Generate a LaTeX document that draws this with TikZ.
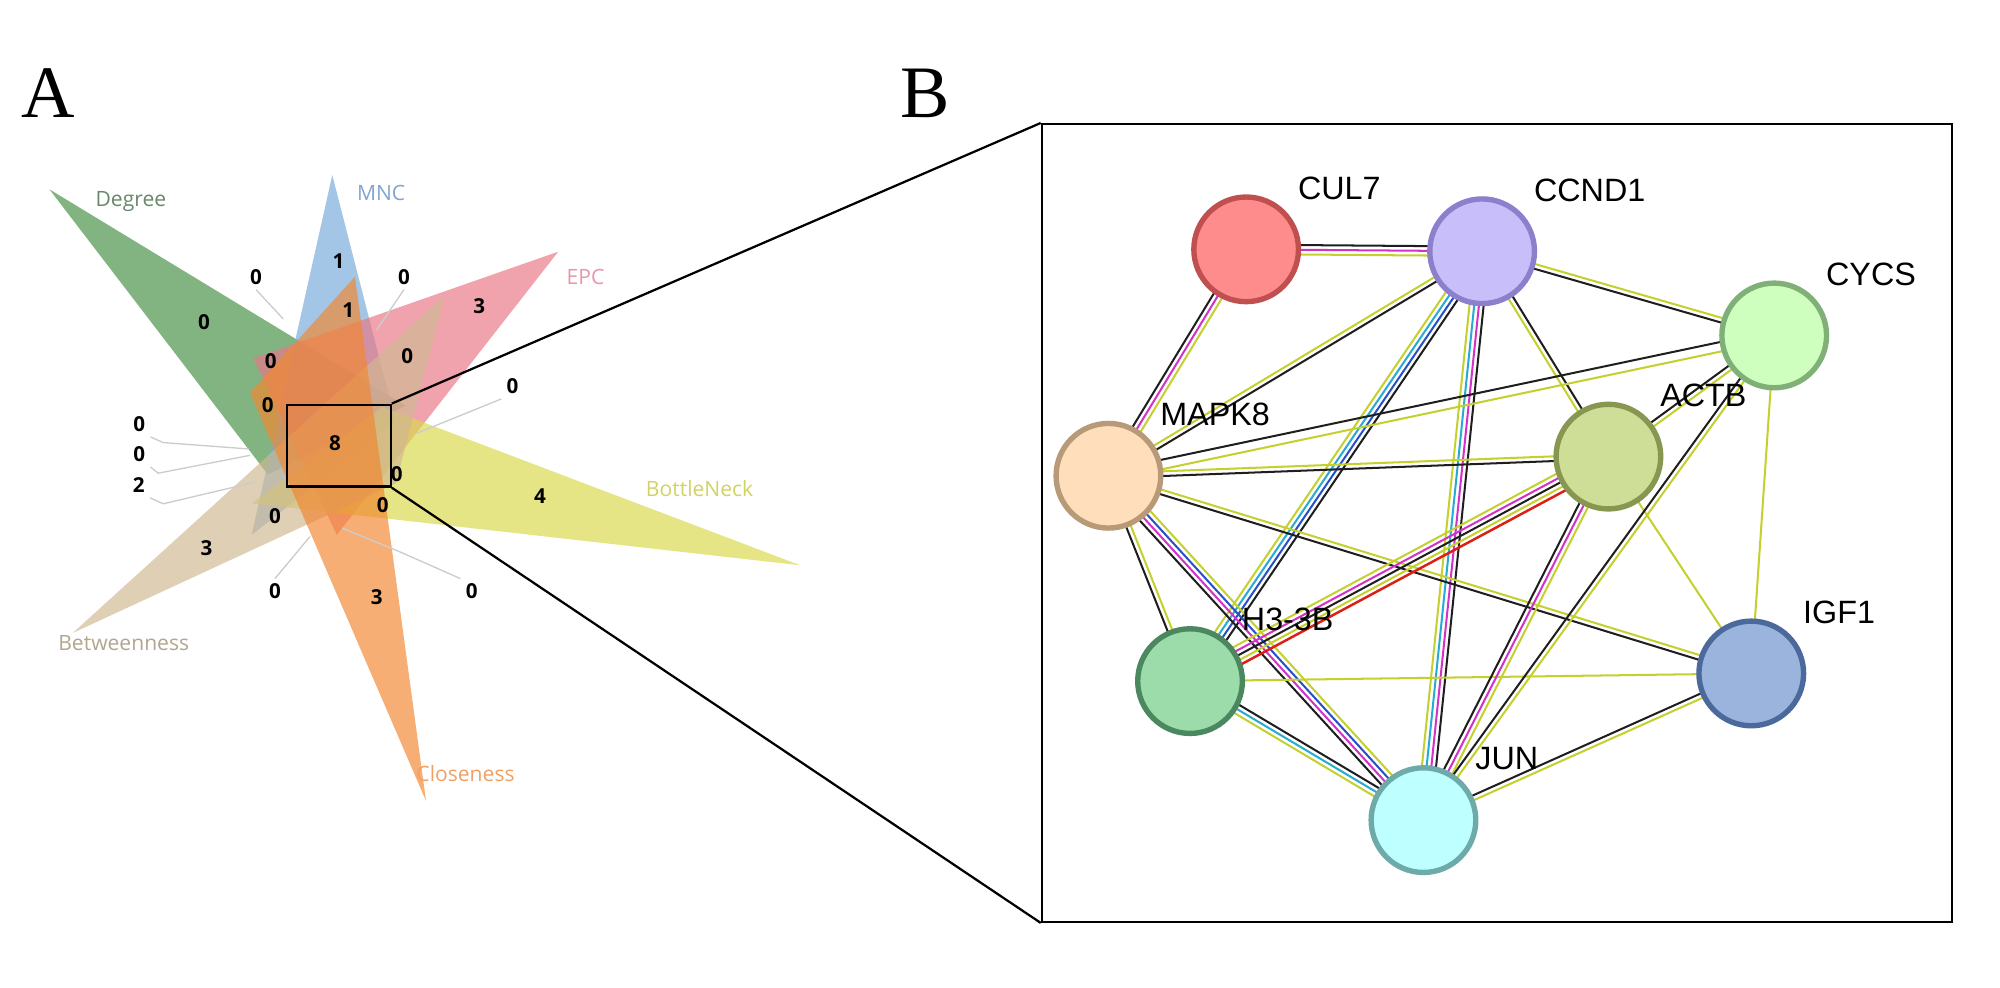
\documentclass[tikz,border=0pt]{standalone}
\usepackage{fontspec}
\setmainfont{Liberation Sans}
\newfontfamily\panelfont{Liberation Serif}
\newfontfamily\vennfont{Open Sans}
\usetikzlibrary{calc,backgrounds}

% petal colours
\definecolor{degc}{RGB}{70,145,70}
\definecolor{mncc}{RGB}{119,171,219}
\definecolor{epcc}{RGB}{234,119,134}
\definecolor{botc}{RGB}{217,217,76}
\definecolor{clsc}{RGB}{242,136,50}
\definecolor{btwc}{RGB}{208,184,145}
\definecolor{degt}{RGB}{105,135,105}
\definecolor{mnct}{RGB}{130,165,205}
\definecolor{epct}{RGB}{232,150,170}
\definecolor{bott}{RGB}{210,210,100}
\definecolor{clst}{RGB}{240,160,100}
\definecolor{btwt}{RGB}{178,165,145}
% gene colours
\definecolor{culf}{RGB}{255,140,140}\definecolor{culd}{RGB}{192,80,80}
\definecolor{ccnf}{RGB}{200,190,250}\definecolor{ccnd}{RGB}{140,128,205}
\definecolor{cycf}{RGB}{206,255,190}\definecolor{cycd}{RGB}{128,176,120}
\definecolor{mapf}{RGB}{255,222,188}\definecolor{mapd}{RGB}{184,154,120}
\definecolor{actf}{RGB}{206,222,150}\definecolor{actd}{RGB}{135,150,80}
\definecolor{h3f}{RGB}{155,220,170}\definecolor{h3d}{RGB}{75,135,95}
\definecolor{igff}{RGB}{155,180,222}\definecolor{igfd}{RGB}{75,105,155}
\definecolor{junf}{RGB}{190,255,255}\definecolor{jund}{RGB}{110,170,170}
% link colours
\definecolor{tmine}{RGB}{195,208,45}
\definecolor{coex}{RGB}{30,30,30}
\definecolor{expm}{RGB}{210,50,200}
\definecolor{dbas}{RGB}{40,170,210}
\definecolor{ccur}{RGB}{40,80,200}
\definecolor{fusn}{RGB}{220,30,20}

\tikzset{
  petal/.style={fill=#1, fill opacity=0.68},
  setlbl/.style={text=#1, font=\vennfont\fontsize{4.7}{5}\selectfont, inner sep=0},
  cnt/.style={font=\vennfont\bfseries\fontsize{4.6}{5}\selectfont, inner sep=1pt},
  leader/.style={draw=black!20, line width=0.3pt},
  gene/.style 2 args={circle, fill=#1, draw=#2, line width=1.2pt, minimum size=0.82cm, inner sep=0},
  glbl/.style={anchor=west, font=\fontsize{7.2}{8}\selectfont, inner sep=0},
  ty/.style={draw=tmine, line width=0.45pt},
  bk/.style={draw=coex, line width=0.45pt},
  mg/.style={draw=expm, line width=0.45pt},
  cy/.style={draw=dbas, line width=0.45pt},
  bl/.style={draw=ccur, line width=0.45pt},
  rd/.style={draw=fusn, line width=0.55pt}
}

\newcommand{\strlink}[3]{%
  \foreach \lc/\k in {#3}
    \draw[\lc] ($(#1)!\k*1.05pt!90:(#2)$) -- ($(#2)!\k*1.05pt!-90:(#1)$);}

\begin{document}
\begin{tikzpicture}[x=0.01cm, y=-0.01cm]
  \useasboundingbox (0,0) rectangle (1568,774.6);

  % panel letters
  \node[font=\panelfont\fontsize{16.5}{18}\selectfont] (pa) at (38,73) {A};
  \node[font=\panelfont\fontsize{16.5}{18}\selectfont] (pb) at (725,73) {B};

  % flower of six sets
  \fill[petal=degc] (38.7,148.4) -- (318,318) -- (210,372) -- cycle;
  \fill[petal=mncc] (260.5,137.2) -- (310,330) -- (197.3,419.4) -- cycle;
  \fill[petal=epcc] (437.7,197.3) -- (198.6,280.9) -- (264,419.4) -- cycle;
  \fill[petal=botc] (627.4,443.2) -- (300,319) -- (197.3,394.6) -- cycle;
  \fill[petal=btwc] (57,496.3) -- (348.9,231.3) -- (310.3,379.1) -- cycle;
  \fill[petal=clsc] (334,628) -- (196,308) -- (278.3,216.9) -- cycle;

  \node[setlbl=degt] (ldeg) at (102.6,158) {Degree};
  \node[setlbl=mnct] (lmnc) at (298.8,151.6) {MNC};
  \node[setlbl=epct] (lepc) at (459,217) {EPC};
  \node[setlbl=bott] (lbot) at (548.5,383.4) {BottleNeck};
  \node[setlbl=clst] (lcls) at (365,606.6) {Closeness};
  \node[setlbl=btwt] (lbtw) at (97,504.3) {Betweenness};

  \foreach \nm/\px/\py/\v in {z1/265.3/205.1/1, z2/273.1/243/1, z3/200.7/216.9/0,
      z4/316.7/216.9/0, z5/375.8/240.4/3, z6/319.3/279.6/0, z7/401.9/302.6/0,
      z8/212.2/283.5/0, z9/209.9/317.5/0, z10/262.6/347.6/8, z11/311/371.6/0,
      z12/300/395.9/0, z13/423.4/388.8/4, z14/215.6/404.5/0, z15/162/430/3,
      z16/215.6/463.8/0, z17/295.3/467.8/3, z18/369.8/463.8/0, z19/160/252.7/0,
      z20/109.2/332.4/0, z21/109.2/356/0, z22/108.7/380.2/2}
    \node[cnt] (\nm) at (\px,\py) {\v};

  \draw[leader] (z3.south) -- (222,250);
  \draw[leader] (z4.south) -- (295.3,258.7);
  \draw[leader] (z7.south west) -- (326.7,339.7);
  \draw[leader] (z20.south east) -- (128,347) -- (195,352);
  \draw[leader] (z21.south east) -- (124,371) -- (196,357);
  \draw[leader] (z22.south east) -- (128,395) -- (200,378);
  \draw[leader] (z16.north) -- (243,420.7);
  \draw[leader] (z18.north west) -- (312,432) -- (268,414);

  % zoom box and frame
  \node[draw, line width=0.5pt, inner sep=0, minimum width=0.81cm, minimum height=0.642cm] (zbox) at (265.8,349.4) {};
  \node[draw, line width=0.5pt, inner sep=0, minimum width=7.13cm, minimum height=6.25cm] (frame) at (1173.5,410) {};
  \draw[line width=0.5pt] (zbox.north east) -- (frame.north west);
  \draw[line width=0.5pt] (zbox.south east) -- (frame.south west);

  % network
  \node[gene={culf}{culd}] (cul) at (977,195.5) {};
  \node[gene={ccnf}{ccnd}] (ccn) at (1162,197) {};
  \node[gene={cycf}{cycd}] (cyc) at (1391,263) {};
  \node[gene={mapf}{mapd}] (mapk) at (869,373) {};
  \node[gene={actf}{actd}] (actb) at (1261,358) {};
  \node[gene={h3f}{h3d}] (h3) at (933,534) {};
  \node[gene={igff}{igfd}] (igf) at (1373,528) {};
  \node[gene={junf}{jund}] (jun) at (1116,643) {};

  \node[glbl] (tcul) at ($(cul)+(40,-48)$) {CUL7};
  \node[glbl] (tccn) at ($(ccn)+(40,-48)$) {CCND1};
  \node[glbl] (tcyc) at ($(cyc)+(40,-48)$) {CYCS};
  \node[glbl] (tmapk) at ($(mapk)+(40,-48)$) {MAPK8};
  \node[glbl] (tactb) at ($(actb)+(40,-48)$) {ACTB};
  \node[glbl] (th3) at ($(h3)+(40,-48)$) {H3-3B};
  \node[glbl] (tigf) at ($(igf)+(40,-48)$) {IGF1};
  \node[glbl] (tjun) at ($(jun)+(40,-48)$) {JUN};

  \begin{pgfonlayer}{background}
    \strlink{cul}{ccn}{ty/-1,mg/0,bk/1}
    \strlink{cul}{mapk}{bk/-1,mg/0,ty/1}
    \strlink{ccn}{cyc}{bk/-0.5,ty/0.5}
    \strlink{ccn}{mapk}{ty/-0.5,bk/0.5}
    \strlink{ccn}{h3}{ty/-1.5,cy/-0.5,bl/0.5,bk/1.5}
    \strlink{ccn}{jun}{ty/-1.5,cy/-0.5,mg/0.5,bk/1.5}
    \strlink{ccn}{actb}{ty/-0.5,bk/0.5}
    \strlink{mapk}{cyc}{ty/-1,bk/1}
    \strlink{mapk}{actb}{bk/-0.5,ty/0.5}
    \strlink{mapk}{igf}{bk/-0.5,ty/0.5}
    \strlink{mapk}{h3}{bk/-0.5,ty/0.5}
    \strlink{mapk}{jun}{bk/-1.5,mg/-0.5,bl/0.5,ty/1.5}
    \strlink{h3}{actb}{rd/-2,ty/-1,bk/0,mg/1,ty/2}
    \strlink{h3}{igf}{ty/0}
    \strlink{h3}{jun}{ty/-1,cy/0,bk/1}
    \strlink{actb}{jun}{bk/-1,mg/0,ty/1}
    \strlink{actb}{cyc}{ty/-0.5,bk/0.5}
    \strlink{actb}{igf}{ty/0}
    \strlink{cyc}{jun}{bk/-0.5,ty/0.5}
    \strlink{cyc}{igf}{ty/0}
    \strlink{igf}{jun}{bk/-0.5,ty/0.5}
  \end{pgfonlayer}
\end{tikzpicture}
\end{document}
